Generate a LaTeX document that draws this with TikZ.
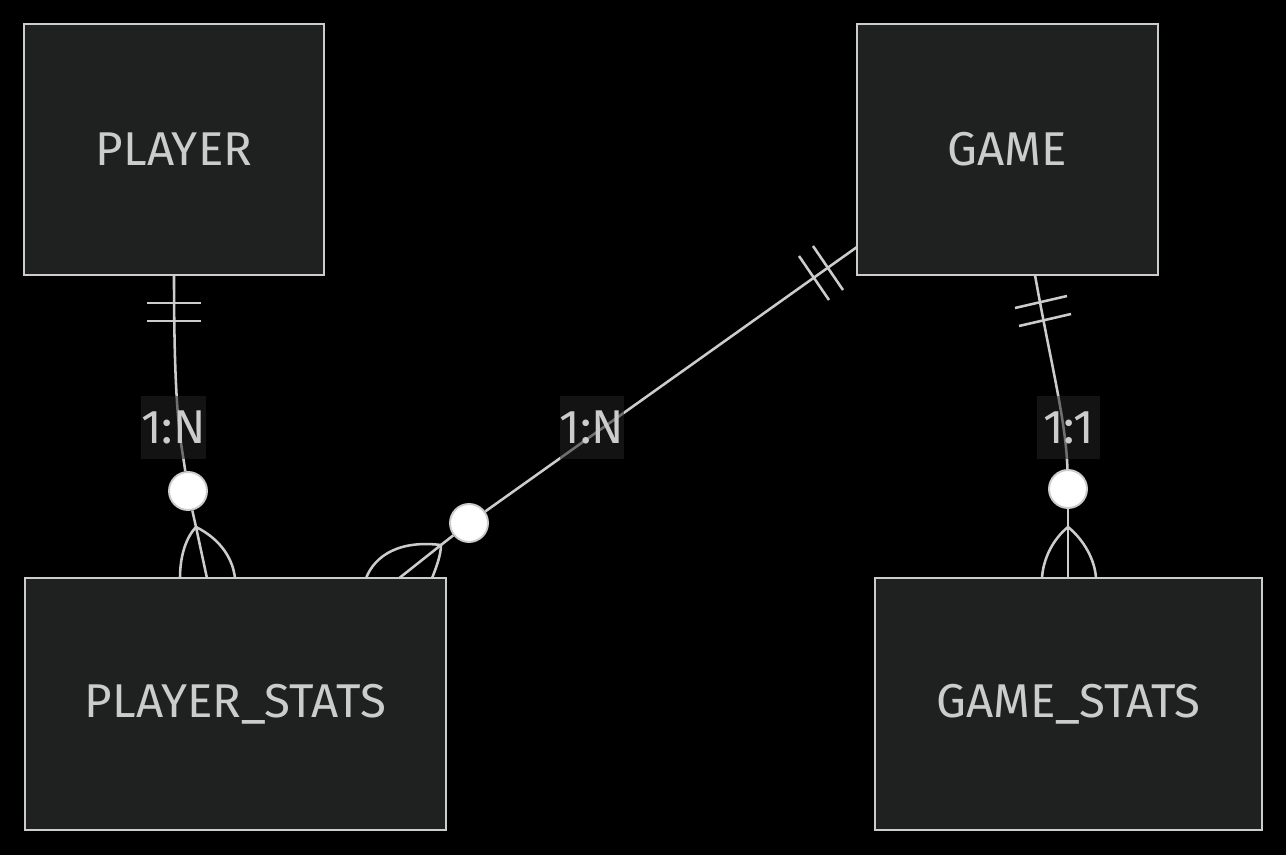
\documentclass[tikz,border=0pt]{standalone}
\usepackage{fontspec}
\setsansfont{Fira Sans}
\usetikzlibrary{positioning}

\definecolor{erfill}{HTML}{1F2020}
\definecolor{erline}{HTML}{CCCCCC}
\definecolor{erlbl}{HTML}{242424}

\begin{document}
\begin{tikzpicture}[
  x=0.02cm,y=-0.02cm,
  font=\sffamily\fontsize{27}{32}\selectfont,
  entity/.style={draw=erline,fill=erfill,text=erline,line width=1.3pt,
                 inner sep=0pt,outer sep=0pt,minimum height=5.03cm},
  rel/.style={draw=erline,line width=1.45pt},
  card/.style={fill=erlbl,fill opacity=0.55,text opacity=1,text=erline,
               inner sep=0pt,minimum size=1.26cm},
  opt/.style={circle,draw=erline,fill=white,line width=1.1pt,
              minimum size=0.76cm,inner sep=0pt}]

\fill[black] (0,0) rectangle (1286,855);
\useasboundingbox (0,0) rectangle (1286,855);

\node[entity,minimum width=6cm] (player) at (174,149.5) {PLAYER};
\node[entity,minimum width=6.02cm] (game) at (1007.5,149.5) {GAME};
\node[entity,minimum width=8.42cm] (pstats) at (235.5,704) {PLAYER\_STATS};
\node[entity,minimum width=7.74cm] (gstats) at (1068.5,704) {GAME\_STATS};

\node[opt] (o1) at (188,491) {};
\node[opt] (o2) at (469,523) {};
\node[opt] (o3) at (1068,489) {};

\coordinate (g2) at (857,247);
\coordinate (g3) at (1035,275);
\coordinate (v1) at (196,527);
\coordinate (v2) at (441,545);
\coordinate (v3) at (1068,527);

% PLAYER -- PLAYER_STATS
\draw[rel] (player.south) .. controls (174,420) and (181,440) .. (o1);
\draw[rel] (147,303) -- (201,303) (147,321) -- (201,321);
\draw[rel] (o1) -- (v1) -- (pstats.north -| 207,0);
\draw[rel] (v1) .. controls (184,540) and (180,560) .. (pstats.north -| 180,0);
\draw[rel] (v1) .. controls (222,540) and (233,560) .. (pstats.north -| 235,0);

% GAME -- PLAYER_STATS
\draw[rel] (g2) -- (o2);
\draw[rel] (799,256) -- (829,300) (813,246) -- (843,290);
\draw[rel] (o2) -- (v2) -- (pstats.north -| 399,0);
\draw[rel] (v2) .. controls (400,540) and (375,555) .. (pstats.north -| 366,0);
\draw[rel] (v2) .. controls (441,555) and (436,568) .. (pstats.north -| 432,0);

% GAME -- GAME_STATS
\draw[rel] (g3) .. controls (1050,360) and (1066,420) .. (o3);
\draw[rel] (1015,308) -- (1067,296) (1019,326) -- (1071,314);
\draw[rel] (o3) -- (v3) -- (gstats.north -| v3);
\draw[rel] (v3) .. controls (1052,540) and (1043,560) .. (gstats.north -| 1042,0);
\draw[rel] (v3) .. controls (1084,540) and (1095,560) .. (gstats.north -| 1096,0);

\node[card] (l1) at (173.5,427.5) {1:N};
\node[card] (l2) at (592,427.5) {1:N};
\node[card] (l3) at (1068.5,427.5) {1:1};
\end{tikzpicture}
\end{document}
